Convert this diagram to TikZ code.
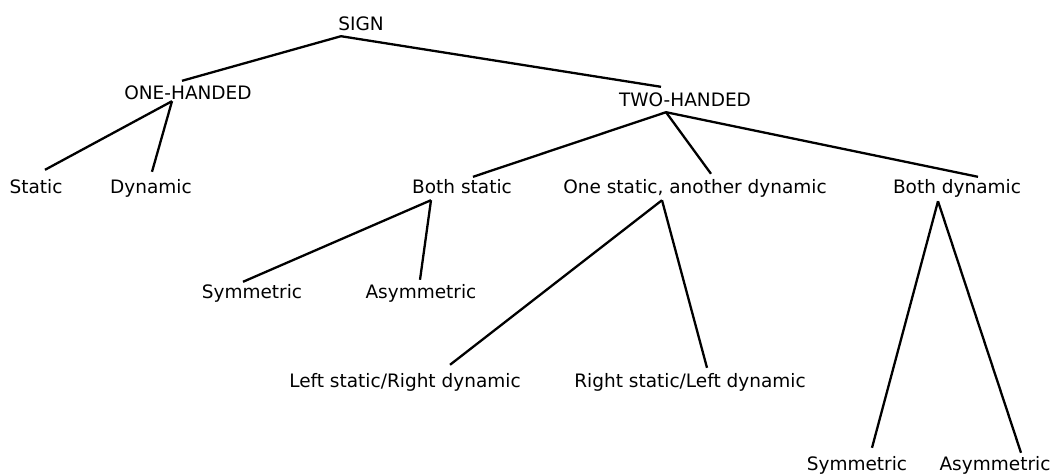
\documentclass[tikz,border=0pt]{standalone}
\usepackage{fontspec}
\setmainfont{DejaVu Sans}
\usetikzlibrary{calc}
\begin{document}
\begin{tikzpicture}[x=1pt,y=-1pt,
  lbl/.style={inner sep=0pt, anchor=base, text height=14.5pt, text depth=0pt, font=\fontsize{18.5}{22}\selectfont},
  edge/.style={line width=2.3pt}]
\useasboundingbox (0,0) rectangle (1052,474);
\node[lbl] (sign) at (361,30) {SIGN};
\node[lbl] (one) at (188,99) {ONE-HANDED};
\node[lbl] (two) at (685,106) {TWO-HANDED};
\node[lbl] (stat) at (36,193) {Static};
\node[lbl] (dyn) at (151,193) {Dynamic};
\node[lbl] (bs) at (462,193) {Both static};
\node[lbl] (os) at (695,193) {One static, another dynamic};
\node[lbl] (bd) at (957,193) {Both dynamic};
\node[lbl] (sym1) at (252,298) {Symmetric};
\node[lbl] (asym1) at (421,298) {Asymmetric};
\node[lbl] (lsrd) at (405,387) {Left static/Right dynamic};
\node[lbl] (rsld) at (690,387) {Right static/Left dynamic};
\node[lbl] (sym2) at (857,470) {Symmetric};
\node[lbl] (asym2) at (995,470) {Asymmetric};
\draw[edge] ($(sign.south)+(-20,6)$) -- ($(one.north)+(-6,-3.5)$);
\draw[edge] ($(sign.south)+(-20,6)$) -- ($(two.north)+(-24,-4.5)$);
\draw[edge] ($(one.south)+(-16,2)$) -- ($(stat.north)+(9,-8.5)$);
\draw[edge] ($(one.south)+(-16,2)$) -- ($(dyn.north)+(1,-6.5)$);
\draw[edge] ($(two.south)+(-19,6)$) -- ($(bs.north)+(11,-1.5)$);
\draw[edge] ($(two.south)+(-19,6)$) -- ($(os.north)+(16,-4.5)$);
\draw[edge] ($(two.south)+(-19,6)$) -- ($(bd.north)+(21,-1.5)$);
\draw[edge] ($(bs.south)+(-31,7)$) -- ($(sym1.north)+(-9,-1.5)$);
\draw[edge] ($(bs.south)+(-31,7)$) -- ($(asym1.north)+(-1,-3.5)$);
\draw[edge] ($(os.south)+(-33,7)$) -- ($(lsrd.north)+(45,-7.5)$);
\draw[edge] ($(os.south)+(-33,7)$) -- ($(rsld.north)+(17,-4.5)$);
\draw[edge] ($(bd.south)+(-19,8)$) -- ($(sym2.north)+(15,-7.5)$);
\draw[edge] ($(bd.south)+(-19,8)$) -- ($(asym2.north)+(26,-2.5)$);
\end{tikzpicture}
\end{document}
